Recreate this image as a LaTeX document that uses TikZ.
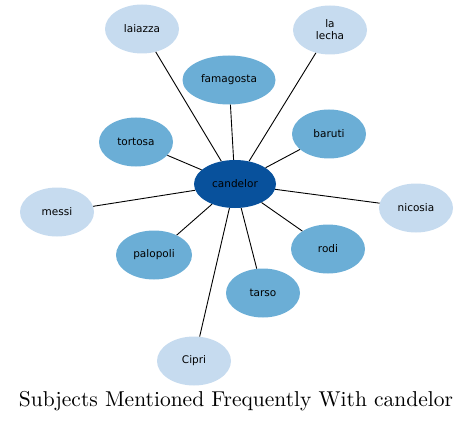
\documentclass[tikz,border=0pt]{standalone}
\usepackage{fontspec}
\usepackage{xcolor}
\usepackage{tikz}
\usetikzlibrary{shapes.geometric}
\newfontfamily\labelfont{DejaVu Sans}
\newfontfamily\captionfont{lmroman10-regular.otf}
\definecolor{deepblue}{HTML}{08519C}
\definecolor{midblue}{HTML}{6BAED6}
\definecolor{paleblue}{HTML}{C6DBEF}
\tikzset{
  hubnode/.style={
    ellipse, draw=none, fill=deepblue,
    minimum width=82pt, minimum height=48pt,
    font=\labelfont\fontsize{10.5}{12}\selectfont, align=center,
    inner sep=0pt
  },
  topicnode/.style={
    ellipse, draw=none, fill=#1,
    minimum width=74pt, minimum height=49pt,
    font=\labelfont\fontsize{10.5}{12}\selectfont, align=center,
    inner sep=0pt
  },
  topicnode/.default=midblue,
  linkline/.style={draw=black, line width=0.9pt},
}

\begin{document}
\begin{tikzpicture}[x=1pt, y=-1pt]
  \useasboundingbox (0,0) rectangle (473,422);
  \node[hubnode] (candelor) at (235,184) {candelor};
  \node[topicnode=paleblue] (laiazza) at (142,29) {laiazza};
  \node[topicnode=paleblue] (lalecha) at (330,30) {la\\lecha};
  \node[topicnode, minimum width=93pt] (famagosta) at (229,80) {famagosta};
  \node[topicnode] (tortosa) at (136,142) {tortosa};
  \node[topicnode] (baruti) at (329,134) {baruti};
  \node[topicnode=paleblue] (messi) at (57,212) {messi};
  \node[topicnode=paleblue] (nicosia) at (416,208) {nicosia};
  \node[topicnode, minimum width=76pt] (palopoli) at (154,255) {palopoli};
  \node[topicnode] (rodi) at (328,249) {rodi};
  \node[topicnode] (tarso) at (263,293) {tarso};
  \node[topicnode=paleblue] (cipri) at (194,361) {Cipri};
  \foreach \leaf in {laiazza,lalecha,famagosta,tortosa,baruti,messi,nicosia,palopoli,rodi,tarso,cipri}
    \draw[linkline] (candelor) -- (\leaf);
  \node[font=\captionfont\fontsize{21.5}{25}\selectfont] (caption) at (236,401) {Subjects Mentioned Frequently With candelor};
\end{tikzpicture}
\end{document}
